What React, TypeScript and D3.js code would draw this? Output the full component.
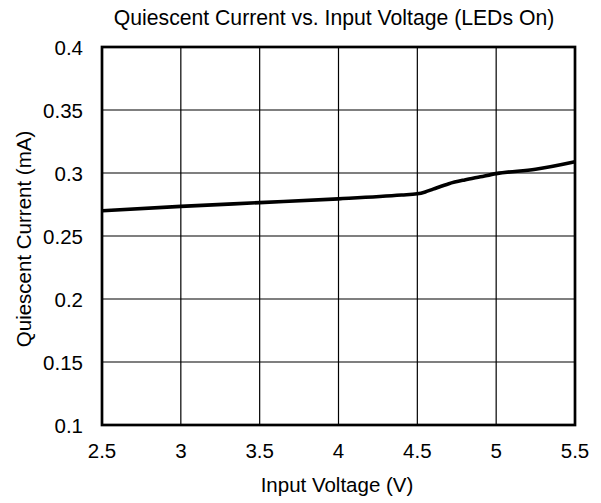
import React from "react";
import * as d3 from "d3";

const voltage = [2.5, 3.0, 3.5, 4.0, 4.4, 4.5, 4.55, 4.6, 4.7, 4.8, 4.9, 5.0, 5.25, 5.5];
const current = [0.270, 0.2735, 0.2765, 0.2795, 0.2825, 0.2835, 0.285, 0.2872, 0.2915, 0.2945, 0.297, 0.2995, 0.303, 0.309];
const xTicks = [2.5, 3, 3.5, 4, 4.5, 5, 5.5];
const yTicks = [0.1, 0.15, 0.2, 0.25, 0.3, 0.35, 0.4];

const W = 601, H = 503;
const L = 102, R = 575, T = 47, B = 425;
const font = "'Liberation Sans', Arial, sans-serif";

export default function App() {
  const x = d3.scaleLinear().domain([2.5, 5.5]).range([L, R]);
  const y = d3.scaleLinear().domain([0.1, 0.4]).range([B, T]);
  const line = d3.line<number>().x((_, i) => x(voltage[i])).y((d) => y(d)).curve(d3.curveMonotoneX);
  return (
    <svg width={W} height={H} style={{ position: "absolute", left: 0, top: 0 }}>
      <rect width={W} height={H} fill="#fff" />
      {xTicks.map((t) => (
        <line key={"gx" + t} x1={x(t)} x2={x(t)} y1={T} y2={B} stroke="#000" strokeWidth={1.2} />
      ))}
      {yTicks.map((t) => (
        <line key={"gy" + t} x1={L} x2={R} y1={y(t)} y2={y(t)} stroke="#000" strokeWidth={1.2} />
      ))}
      <rect x={L} y={T} width={R - L} height={B - T} fill="none" stroke="#000" strokeWidth={2.7} />
      <path d={line(current) || ""} fill="none" stroke="#000" strokeWidth={3.6} />
      {xTicks.map((t) => (
        <text key={"tx" + t} x={x(t)} y={457.5} textAnchor="middle" fontFamily={font} fontSize={20.5}>
          {d3.format("")(t)}
        </text>
      ))}
      {yTicks.map((t) => (
        <text key={"ty" + t} x={83} y={y(t) + 7.5} textAnchor="end" fontFamily={font} fontSize={20.5}>
          {d3.format("")(t)}
        </text>
      ))}
      <text x={334} y={25} textAnchor="middle" fontFamily={font} fontSize={21.2}>
        Quiescent Current vs. Input Voltage (LEDs On)
      </text>
      <text x={337} y={492} textAnchor="middle" fontFamily={font} fontSize={20.5}>
        Input Voltage (V)
      </text>
      <text transform={`translate(31,239) rotate(-90)`} textAnchor="middle" fontFamily={font} fontSize={20.5}>
        Quiescent Current (mA)
      </text>
    </svg>
  );
}
